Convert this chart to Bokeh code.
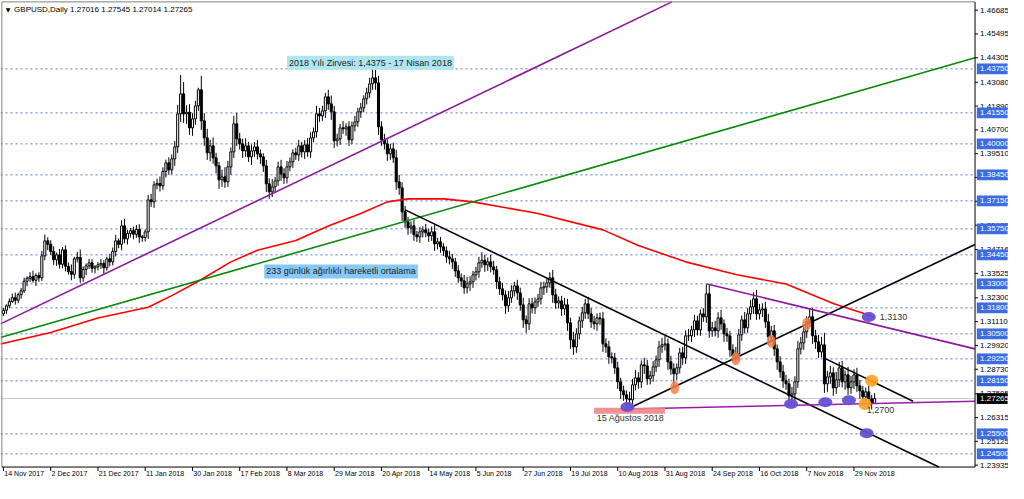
from bokeh.plotting import figure
from bokeh.models import Range1d, Label, ColumnDataSource
from bokeh.core.properties import value
from bokeh.embed import file_html
from bokeh.resources import INLINE

# ---------------- data ----------------
first_open = 1.3150
closes = [
    1.3168, 1.3190, 1.3212, 1.3231, 1.3218, 1.3246, 1.3265, 1.3313, 1.3328, 1.3336, 1.3318, 1.3342, 1.3330, 1.3440, 1.3515, 1.3498,
    1.3462, 1.3420, 1.3445, 1.3398, 1.3470, 1.3388, 1.3362, 1.3348, 1.3425, 1.3432, 1.3330, 1.3372, 1.3390, 1.3405, 1.3378, 1.3385,
    1.3395, 1.3402, 1.3380, 1.3425, 1.3410, 1.3462, 1.3515, 1.3498, 1.3590, 1.3525, 1.3552, 1.3566, 1.3548, 1.3572, 1.3535, 1.3532, 1.3560,
    1.3720, 1.3710, 1.3795, 1.3802, 1.3790, 1.3862, 1.3905, 1.3870, 1.3925, 1.3985, 1.4150, 1.4250, 1.4150, 1.4158, 1.4080, 1.4125, 1.4190, 1.4270, 1.4115, 1.4030,
    1.3955, 1.3990, 1.3930, 1.3890, 1.3820, 1.3835, 1.3810, 1.3885, 1.3960, 1.4100, 1.4025, 1.4000, 1.3965, 1.3990, 1.3935, 1.3965, 1.3985, 1.3950, 1.3935, 1.3890,
    1.3800, 1.3760, 1.3785, 1.3815, 1.3885, 1.3850, 1.3830, 1.3885, 1.3910, 1.3955, 1.3945, 1.3990, 1.3960, 1.3995, 1.3960, 1.4030, 1.4060, 1.4150, 1.4140, 1.4165,
    1.4235, 1.4200, 1.4160, 1.4015, 1.4025, 1.4080, 1.4075, 1.4085, 1.4020, 1.4090, 1.4110, 1.4160, 1.4180, 1.4225, 1.4255, 1.4300, 1.4330, 1.4305, 1.4085, 1.4020,
    1.4000, 1.3950, 1.3975, 1.3930, 1.3810, 1.3780, 1.3660, 1.3610, 1.3580, 1.3590, 1.3545, 1.3535, 1.3560, 1.3570, 1.3555, 1.3540, 1.3560, 1.3500, 1.3510, 1.3485,
    1.3465, 1.3435, 1.3425, 1.3410, 1.3365, 1.3330, 1.3315, 1.3280, 1.3300, 1.3310, 1.3345, 1.3360, 1.3405, 1.3418, 1.3395, 1.3410, 1.3385, 1.3370, 1.3310, 1.3275,
    1.3245, 1.3190, 1.3230, 1.3265, 1.3290, 1.3255, 1.3195, 1.3120, 1.3100, 1.3200, 1.3180, 1.3210, 1.3225, 1.3280, 1.3285, 1.3305, 1.3330, 1.3245, 1.3205, 1.3215,
    1.3175, 1.3195, 1.3105, 1.3020, 1.2985, 1.3050, 1.3115, 1.3155, 1.3200, 1.3150, 1.3110, 1.3100, 1.3130, 1.3125, 1.3000, 1.2985, 1.2935, 1.2930, 1.2880, 1.2810,
    1.2765, 1.2745, 1.2725, 1.2720, 1.2795, 1.2830, 1.2810, 1.2895, 1.2890, 1.2825, 1.2840, 1.2885, 1.2920, 1.2985, 1.2995, 1.3000, 1.2910, 1.2875, 1.2850, 1.2880,
    1.2955, 1.2930, 1.3040, 1.3040, 1.3070, 1.3115, 1.3070, 1.3150, 1.3135, 1.3250, 1.3065, 1.3080, 1.3065, 1.3130, 1.3100, 1.3050, 1.3040, 1.2970, 1.2940, 1.2950,
    1.3045, 1.3120, 1.3080, 1.3150, 1.3185, 1.3225, 1.3150, 1.3170, 1.3175, 1.3110, 1.3035, 1.3065, 1.2975, 1.2910, 1.2860, 1.2815, 1.2800, 1.2740, 1.2750, 1.2810,
    1.2975, 1.3005, 1.3060, 1.3110, 1.3135, 1.3040, 1.3010, 1.2960, 1.2995, 1.2800, 1.2835, 1.2855, 1.2780, 1.2820, 1.2880, 1.2810, 1.2845, 1.2780, 1.2810, 1.2845,
    1.2790, 1.2765, 1.2735, 1.2760, 1.2725, 1.2702, 1.2727,
]
# wick lengths above / below the candle body, in pips
upper_wick = [
    12, 8, 15, 20, 25, 10, 14, 18, 9, 22, 30, 11, 16, 25, 31, 18, 20, 26, 12, 30,
    14, 22, 19, 35, 10, 28, 40, 15, 12, 20, 18, 9, 14, 22, 16, 11, 25, 20, 30, 12,
    28, 35, 18, 14, 20, 22, 26, 10, 12, 25, 30, 18, 24, 35, 20, 16, 28, 22, 30, 45,
    94, 60, 35, 40, 28, 25, 11, 70, 38, 45, 30, 42, 25, 20, 36, 48, 30, 22, 40, 55,
    30, 26, 38, 20, 32, 24, 35, 22, 18, 30, 28, 40, 20, 26, 35, 28, 30, 22, 18, 25,
    30, 20, 24, 35, 28, 22, 40, 30, 25, 20, 35, 42, 30, 26, 20, 34, 18, 28, 22, 30,
    20, 25, 18, 26, 30, 47, 40, 35, 28, 30, 22, 25, 30, 40, 35, 28, 30, 25, 22, 30,
    20, 25, 18, 30, 22, 26, 35, 20, 24, 18, 22, 30, 25, 20, 28, 22, 30, 35, 28, 20,
    25, 30, 40, 28, 22, 35, 30, 20, 25, 30, 22, 35, 28, 20, 30, 26, 35, 22, 28, 30,
    22, 25, 30, 26, 20, 28, 40, 30, 22, 25, 35, 30, 26, 40, 28, 22, 30, 25, 35, 28,
    30, 22, 26, 35, 28, 30, 22, 25, 30, 20, 26, 22, 35, 30, 40, 28, 22, 35, 30, 25,
    28, 22, 30, 35, 40, 26, 30, 28, 22, 25, 30, 28, 35, 20, 30, 25, 22, 28, 48, 45,
    30, 35, 28, 40, 22, 30, 25, 28, 35, 30, 22, 40, 28, 35, 33, 45, 30, 28, 35, 40,
    25, 30, 22, 28, 35, 30, 26, 35, 28, 40, 30, 35, 28, 40, 45, 30, 35, 40, 60, 30,
    35, 28, 40, 30, 35, 22, 40, 30, 28, 35, 30, 25, 22, 30, 20, 27,
]
lower_wick = [
    10, 18, 12, 8, 22, 15, 20, 10, 25, 18, 12, 28, 20, 15, 22, 30, 18, 25, 30, 22,
    20, 26, 15, 30, 22, 18, 25, 20, 28, 15, 22, 25, 18, 20, 30, 15, 22, 18, 25, 20,
    30, 22, 28, 20, 25, 18, 30, 22, 20, 35, 25, 30, 22, 28, 20, 30, 25, 22, 35, 30,
    40, 45, 50, 35, 40, 30, 25, 45, 40, 35, 42, 30, 38, 45, 35, 30, 25, 40, 30, 35,
    28, 35, 30, 25, 40, 30, 28, 35, 30, 40, 35, 26, 30, 25, 35, 30, 28, 22, 30, 25,
    30, 28, 35, 25, 30, 22, 28, 30, 25, 35, 30, 40, 35, 28, 30, 25, 35, 30, 22, 28,
    25, 30, 22, 28, 25, 30, 35, 40, 30, 28, 35, 30, 25, 40, 35, 45, 30, 35, 28, 30,
    25, 30, 28, 22, 30, 25, 35, 28, 30, 25, 30, 28, 35, 30, 25, 30, 30, 28, 35, 30,
    28, 30, 25, 35, 30, 28, 25, 35, 30, 28, 40, 30, 25, 28, 35, 30, 40, 45, 30, 28,
    30, 25, 28, 35, 30, 25, 40, 30, 28, 35, 30, 40, 45, 40, 30, 28, 35, 30, 25, 30,
    28, 35, 30, 40, 30, 35, 28, 30, 35, 40, 30, 50, 35, 30, 28, 35, 30, 40, 30, 28,
    30, 25, 35, 30, 28, 40, 30, 70, 30, 28, 35, 30, 25, 30, 35, 28, 30, 25, 30, 35,
    30, 28, 35, 30, 40, 30, 35, 30, 28, 35, 30, 28, 25, 30, 35, 30, 28, 35, 30, 40,
    30, 35, 40, 30, 35, 30, 40, 44, 35, 30, 28, 35, 30, 25, 40, 35, 30, 28, 45, 40,
    35, 40, 30, 35, 28, 40, 35, 30, 35, 30, 40, 35, 30, 45, 30, 1,
]

date_ticks = [0, 16, 32, 48, 64, 80, 96, 112, 128, 144, 160, 176, 192, 208, 224, 240, 256, 272, 288]
date_labels = ["14 Nov 2017", "2 Dec 2017", "21 Dec 2017", "11 Jan 2018", "30 Jan 2018", "17 Feb 2018",
               "8 Mar 2018", "29 Mar 2018", "20 Apr 2018", "14 May 2018", "5 Jun 2018", "27 Jun 2018",
               "19 Jul 2018", "10 Aug 2018", "31 Aug 2018", "24 Sep 2018", "16 Oct 2018", "7 Nov 2018",
               "29 Nov 2018"]
price_ticks = [1.46685, 1.45495, 1.44305, 1.43080, 1.41890, 1.40700, 1.39510, 1.38320, 1.37130, 1.35935,
               1.34716, 1.33525, 1.32300, 1.31110, 1.29920, 1.28730, 1.27505, 1.26315, 1.25125, 1.23935]
levels = [1.43750, 1.41550, 1.40000, 1.38450, 1.37150, 1.35750, 1.34450, 1.33000, 1.31800,
          1.30500, 1.29250, 1.28150, 1.25500, 1.24500]
current_price = 1.27265
header = "GBPUSD,Daily  1.27016 1.27545 1.27014 1.27265"

# 233-period weighted moving average (bar index, price)
ma_bars = [-1, 16, 32, 49, 57, 66, 77, 86, 99, 110, 121, 130, 137, 149, 159, 181, 203, 215, 231, 248, 265, 281, 295]
ma_values = [1.2999, 1.3057, 1.3129, 1.3183, 1.3241, 1.3313, 1.3410, 1.3468, 1.3517, 1.3589, 1.3652, 1.3710,
             1.3725, 1.3725, 1.3710, 1.3652, 1.3570, 1.3492, 1.3410, 1.3347, 1.3299, 1.3202, 1.3134]

# trend lines: (bar0, price0, bar1, price1, bar_end)
purple_up = (-1, 1.3100, 159, 1.4233, 329)
green_up = (-1, 1.3032, 159, 1.3710, 329)
black_down = (136, 1.3670, 292, 1.2560, 329)
black_up = (211.3, 1.2674, 329, 1.3497, 329)
purple_down = (238.3, 1.3299, 329, 1.2975, 329)
purple_flat = (211.3, 1.2674, 329, 1.2713, 329)
black_short = (278.3, 1.2926, 308, 1.2713, 308)

purple_dot_bars = [211.3, 266.7, 278.3, 286.3, 292.3, 293.0]
purple_dot_prices = [1.2684, 1.2699, 1.2708, 1.2718, 1.2553, 1.3134]
orange_dot_bars = [227.3, 248.0, 260.0, 272.0]
orange_dot_prices = [1.2781, 1.2926, 1.3013, 1.3100]
orange2_dot_bars = [294.0, 291.7]
orange2_dot_prices = [1.2815, 1.2699]

# ---------------- figure ----------------
XL, XA, XR = -1.0, 329.0, 340.33     # canvas left, price-scale line, canvas right (bar units)
YC, YB, YT = 1.23017, 1.2384, 1.47169  # canvas bottom, chart bottom, canvas top (price units)
TOP_EDGE = 1.4710
FONT = "Liberation Sans"

p = figure(width=1008, height=483, x_range=Range1d(XL, XR), y_range=Range1d(YC, YT),
           output_backend="svg", toolbar_location=None, x_axis_type=None, y_axis_type=None,
           min_border=0, background_fill_color="white", border_fill_color="white",
           outline_line_color=None)
p.xgrid.visible = False
p.ygrid.visible = False

# level lines
p.segment(x0=[XL] * len(levels), y0=levels, x1=[XA] * len(levels), y1=levels,
          line_color="#4f76e6", line_dash="2 3", line_width=1)
p.segment(x0=[XL], y0=[current_price], x1=[XA], y1=[current_price], line_color="#c8c8c8", line_width=1)

# candles
opens = [first_open] + closes[:-1]
bars = list(range(len(closes)))
highs = [max(o, c) + u * 0.0001 for o, c, u in zip(opens, closes, upper_wick)]
lows = [min(o, c) - d * 0.0001 for o, c, d in zip(opens, closes, lower_wick)]
src = ColumnDataSource(dict(x=bars, o=opens, c=closes, h=highs, l=lows))
p.segment(x0="x", y0="l", x1="x", y1="h", source=src, line_color="black", line_width=1)
up = [i for i in bars if closes[i] >= opens[i]]
dn = [i for i in bars if closes[i] < opens[i]]
src_up = ColumnDataSource(dict(x=up, top=[closes[i] for i in up], bottom=[opens[i] for i in up]))
src_dn = ColumnDataSource(dict(x=dn, top=[opens[i] for i in dn], bottom=[closes[i] for i in dn]))
p.vbar(x="x", top="top", bottom="bottom", width=0.7, source=src_up,
       fill_color="white", line_color="black", line_width=1)
p.vbar(x="x", top="top", bottom="bottom", width=0.7, source=src_dn,
       fill_color="black", line_color="black", line_width=1)

# moving average
p.line(ma_bars, ma_values, line_color="#ff0000", line_width=1.6)


def ray(spec):
    """Extend a trend line to bar_end, clipped to the chart's price area."""
    b0, p0, b1, p1, be = spec
    slope = (p1 - p0) / (b1 - b0)
    pe = p0 + slope * (be - b0)
    if pe < YB:
        be = b0 + (YB - p0) / slope
        pe = YB
    elif pe > TOP_EDGE:
        be = b0 + (TOP_EDGE - p0) / slope
        pe = TOP_EDGE
    return [b0, be], [p0, pe]


for spec, col in [(green_up, "#0a8a0a"), (purple_up, "#8a1a9a"), (black_down, "#000000"),
                  (black_up, "#000000"), (purple_down, "#8a1a9a"), (purple_flat, "#9a1aaa"),
                  (black_short, "#000000")]:
    xs, ys = ray(spec)
    p.line(xs, ys, line_color=col, line_width=1.6)

# 15 Aug marker band
p.quad(left=[200], right=[224], bottom=[1.2650], top=[1.2681], fill_color="#f08484",
       line_color=None, fill_alpha=0.9)

# dots
p.ellipse(orange_dot_bars, orange_dot_prices, width=9, height=13, width_units="screen",
          height_units="screen", fill_color="#f4804a", fill_alpha=0.85, line_color=None)
p.ellipse(orange2_dot_bars, orange2_dot_prices, width=13, height=12, width_units="screen",
          height_units="screen", fill_color="#ffa020", fill_alpha=0.9, line_color=None)
p.ellipse(purple_dot_bars, purple_dot_prices, width=14, height=10, width_units="screen",
          height_units="screen", fill_color="#6650d2", fill_alpha=0.95, line_color=None)

# frame borders (left, top, bottom) and price-scale line
p.line([-0.55, -0.55], [YB, TOP_EDGE], line_color="#808080", line_width=1)
p.line([-0.55, XA], [TOP_EDGE, TOP_EDGE], line_color="#808080", line_width=1)
p.line([-0.55, XA], [YB, YB], line_color="#000000", line_width=1)
p.line([XA, XA], [YB, TOP_EDGE], line_color="#000000", line_width=1)

# time scale: ticks and labels
k = len(date_ticks)
p.segment(x0=date_ticks, y0=[YB] * k, x1=date_ticks, y1=[YB - 0.0020] * k, line_color="#000000", line_width=1)
p.text(x=[t + 0.3 for t in date_ticks], y=[1.2353] * k, text=date_labels,
       text_font=value(FONT), text_font_size=value("7px"), text_color="#000000",
       text_baseline="middle", text_align="left")

# price scale: ticks and labels
n = len(price_ticks)
p.segment(x0=[XA] * n, y0=price_ticks, x1=[XA + 1.0] * n, y1=price_ticks, line_color="#000000", line_width=1)
p.text(x=[XA + 1.7] * n, y=price_ticks, text=[f"{t:.5f}" for t in price_ticks],
       text_font=value(FONT), text_font_size=value("8px"), text_color="#000000",
       text_baseline="middle", text_align="left")

# highlighted price labels
h = 0.0027
m = len(levels)
p.quad(left=[XA + 0.6] * m, right=[XR - 0.3] * m, bottom=[lv - h for lv in levels],
       top=[lv + h for lv in levels], fill_color="#3b6de0", line_color=None)
p.text(x=[XA + 1.7] * m, y=levels, text=[f"{lv:.5f}" for lv in levels],
       text_font=value(FONT), text_font_size=value("8px"), text_color="white",
       text_baseline="middle", text_align="left")
p.quad(left=[XA + 0.6], right=[XR - 0.3], bottom=[current_price - h], top=[current_price + h],
       fill_color="#000000", line_color=None)
p.text(x=[XA + 1.7], y=[current_price], text=[f"{current_price:.5f}"],
       text_font=value(FONT), text_font_size=value("8px"), text_color="white",
       text_baseline="middle", text_align="left")

# text annotations
p.add_layout(Label(x=96, y=1.4405, text="2018 Yılı Zirvesi: 1,4375 - 17 Nisan 2018",
                   text_font=FONT, text_font_size="9px", text_color="#222222",
                   text_baseline="middle", text_align="left",
                   background_fill_color="#aee6ef", padding=2))
p.add_layout(Label(x=88.3, y=1.3362, text="233 günlük ağırlıklı hareketli ortalama",
                   text_font=FONT, text_font_size="9px", text_color="#222222",
                   text_baseline="middle", text_align="left",
                   background_fill_color="#86c9f7", padding=2))
p.add_layout(Label(x=212.3, y=1.2631, text="15 Ağustos 2018", text_font=FONT,
                   text_font_size="9px", text_color="#333333", text_baseline="middle",
                   text_align="center"))
p.add_layout(Label(x=296.7, y=1.3134, text="1,3130", text_font=FONT, text_font_size="9px",
                   text_color="#333333", text_baseline="middle", text_align="left"))
p.add_layout(Label(x=292.3, y=1.2670, text="1,2700", text_font=FONT, text_font_size="9px",
                   text_color="#333333", text_baseline="middle", text_align="left"))
p.add_layout(Label(x=0.8, y=1.4673, text="▼", text_font="DejaVu Sans", text_font_size="6px",
                   text_color="#000000", text_baseline="middle", text_align="left"))
p.add_layout(Label(x=3.6, y=1.4673, text=header, text_font=FONT, text_font_size="8px",
                   text_color="#000000", text_baseline="middle", text_align="left"))

open("out.html", "w").write(file_html(p, INLINE))
